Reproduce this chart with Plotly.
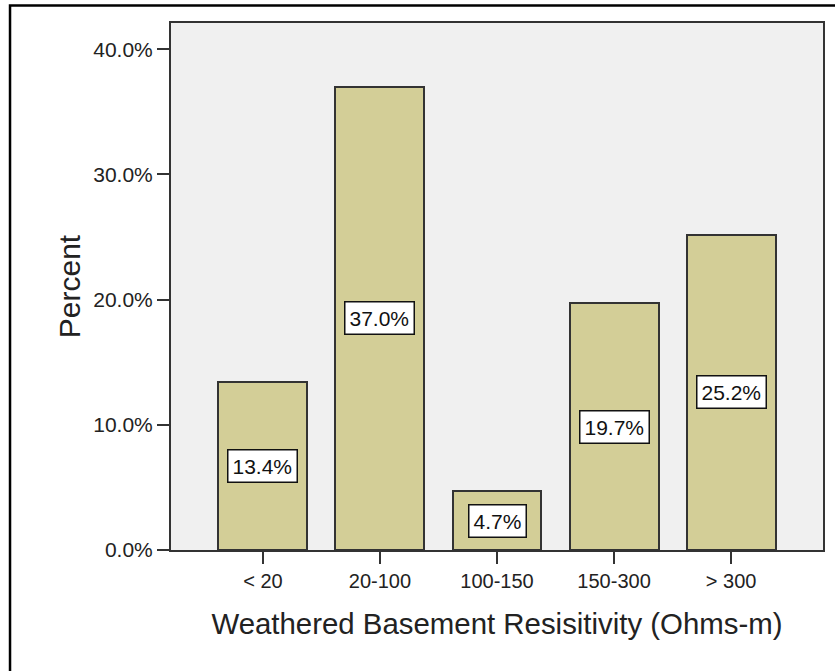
"""
bar chart of percent of sites for each weathered basement resistivity class
"""

import plotly.graph_objects as go


# resistivity classes and the percent of sites in each
resistivity_class = ['< 20', '20-100', '100-150', '150-300', '> 300']
percent = [13.4, 37.0, 4.7, 19.7, 25.2]
y_ticks = [0, 10, 20, 30, 40]


def make_figure():

    fig = go.Figure()

    #bars with dark outline like spss default
    fig.add_trace(
        go.Bar(
            x=resistivity_class,
            y=percent,
            width=0.76,
            marker=dict(color='#D3CE97',
                        line=dict(color='#333333', width=2)),
            hoverinfo='x+y',
        )
    )

    #white value boxes in the middle of every bar
    for c, p in zip(resistivity_class, percent):
        fig.add_annotation(
            x=c, y=p / 2,
            text='%.1f%%' % p,
            showarrow=False,
            font=dict(size=21, color='#111111'),
            bgcolor='white',
            bordercolor='#111111',
            borderwidth=1.5,
            borderpad=4,
        )

    #outer frame of the picture, only left and top edges are visible
    fig.add_shape(type='rect', xref='paper', yref='paper',
                  x0=-0.2469, x1=1.05, y0=-0.26, y1=1.0332,
                  line=dict(color='black', width=2.5),
                  fillcolor='rgba(0,0,0,0)', layer='above')

    fig.update_layout(
        width=835,
        height=671,
        margin=dict(l=171, r=10, t=23, b=121),
        paper_bgcolor='white',
        plot_bgcolor='#F0F0F0',
        font=dict(family='Arial, Liberation Sans, sans-serif', size=20, color='#222222'),
        showlegend=False,
        bargap=0,
    )

    fig.update_xaxes(
        range=[-0.785, 4.785],
        showline=True, linecolor='#333333', linewidth=2, mirror=True,
        ticks='outside', ticklen=12, tickwidth=2, tickcolor='#333333',
        tickfont=dict(size=20),
        showgrid=False, zeroline=False,
        title=dict(text='Weathered Basement Resisitivity (Ohms-m)',
                   font=dict(size=29.4), standoff=22),
    )

    fig.update_yaxes(
        range=[0, 42.1],
        tickvals=y_ticks,
        ticktext=['%.1f%%' % v for v in y_ticks],
        showline=True, linecolor='#333333', linewidth=2, mirror=True,
        ticks='outside', ticklen=12, tickwidth=2, tickcolor='#333333',
        tickfont=dict(size=21),
        showgrid=False, zeroline=False,
        title=dict(text='Percent', font=dict(size=30), standoff=4),
    )

    return fig


def main():

    fig = make_figure()
    #drop the default page margin so the figure sits at the window corner
    fig.write_html('out.html', config={'displayModeBar': False},
                   post_script="document.body.style.margin='0';")


if __name__ == '__main__':

    main()
